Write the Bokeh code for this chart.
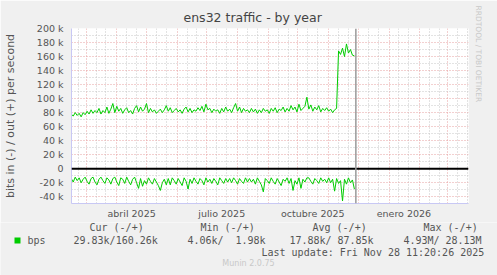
import pandas as pd
from bokeh.plotting import figure
from bokeh.layouts import column
from bokeh.models import Range1d, FixedTicker, Grid, Span, Title
from bokeh.core.properties import value
from bokeh.embed import file_html
from bokeh.resources import INLINE

# ---- data (values in kbit/s, one sample every 2 days) ----
dates = pd.date_range("2025-02-14", periods=144, freq="2D")
out_k = [78, 75, 80, 76, 79, 74, 80, 77, 82, 78,
         84, 79, 83, 80, 86, 78, 83, 80, 88, 79,
         85, 93, 80, 89, 82, 86, 79, 84, 87, 80,
         83, 78, 86, 90, 81, 88, 82, 85, 93, 80,
         86, 81, 84, 79, 82, 85, 80, 84, 90, 82,
         87, 80, 83, 86, 81, 84, 79, 85, 88, 81,
         86, 80, 84, 82, 87, 83, 89, 81, 92, 84,
         86, 80, 85, 82, 84, 79, 86, 81, 88, 82,
         85, 80, 87, 93, 82, 88, 80, 86, 82, 84,
         80, 86, 81, 85, 79, 84, 80, 86, 82, 84,
         79, 86, 82, 87, 80, 85, 83, 88, 81, 86,
         82, 90, 84, 88, 81, 92, 83, 86, 89, 102,
         85, 91, 82, 88, 84, 90, 81, 86, 83, 87,
         82, 85, 80, 84, 86, 168, 163, 172, 160, 178,
         165, 170, 162, 161]
in_k = [14, 19, 12, 17, 13, 20, 15, 12, 18, 22,
        14, 12, 19, 23, 15, 12, 17, 21, 13, 16,
        22, 14, 12, 19, 24, 13, 15, 21, 12, 18,
        23, 15, 12, 20, 28, 14, 25, 17, 22, 13,
        18, 22, 14, 19, 24, 31, 20, 15, 23, 14,
        23, 13, 17, 22, 14, 19, 24, 13, 18, 29,
        15, 21, 13, 18, 22, 14, 17, 23, 13, 19,
        15, 21, 14, 18, 23, 13, 17, 21, 14, 19,
        14, 20, 13, 17, 22, 14, 18, 21, 13, 19,
        14, 19, 15, 22, 13, 18, 23, 33, 14, 17,
        21, 13, 18, 22, 14, 19, 24, 15, 18, 13,
        21, 14, 31, 17, 22, 13, 28, 15, 19, 13,
        13, 18, 22, 14, 17, 21, 13, 18, 15, 20,
        13, 20, 15, 32, 14, 21, 17, 46, 15, 22,
        13, 20, 16, 29]

y_tick_values = [-40000, -20000, 0, 20000, 40000, 60000, 80000, 100000,
                 120000, 140000, 160000, 180000, 200000]
y_tick_labels = ["-40 k", "-20 k", "0", "20 k", "40 k", "60 k", "80 k", "100 k",
                 "120 k", "140 k", "160 k", "180 k", "200 k"]
x_label_dates = ["2025-04-16", "2025-07-16", "2025-10-16", "2026-01-16"]
x_label_texts = ["abril 2025", "julio 2025", "octubre 2025", "enero 2026"]

legend_name = "bps"
legend_headers = ["Cur (-/+)", "Min (-/+)", "Avg (-/+)", "Max (-/+)"]
legend_values = ["29.83k/160.26k", "4.06k/", "1.98k", "17.88k/", "87.85k", "4.93M/", "28.13M"]
last_update = "Last update: Fri Nov 28 11:20:26 2025"
now_time = "2025-11-28 11:20:26"

def ms(t):
    return pd.Timestamp(t).value / 1e6

out_vals = [v * 1000 for v in out_k]
in_vals = [-v * 1000 for v in in_k]

BG = "#F0F0F0"
TXT = "#555555"
GREEN = "#00CC00"
MAIN_H = 222

p = figure(width=497, height=MAIN_H, x_axis_type="datetime",
           output_backend="svg", toolbar_location=None,
           x_range=Range1d(ms("2025-02-14 06:00"), ms("2026-03-22 06:00")),
           y_range=Range1d(-49600, 200000),
           min_border_left=67, min_border_right=29,
           min_border_top=28, min_border_bottom=MAIN_H - 203)
p.background_fill_color = "white"
p.border_fill_color = BG
p.outline_line_color = None
p.xgrid.visible = False
p.ygrid.visible = False
p.frame_align = False

# title
p.title = Title(text="ens32 traffic - by year", align="left", offset=112,
                text_font="DejaVu Sans", text_font_size="12.5px",
                text_font_style="normal", text_color="#444444", standoff=8)
p.add_layout(Title(text="RRDTOOL / TOBI OETIKER", align="left", offset=-23,
                   vertical_align="top", standoff=6,
                   text_font="DejaVu Sans", text_font_size="7.5px",
                   text_font_style="normal", text_color="#C8C8C8"), "right")

# grids
month_starts = pd.date_range("2025-02-01", "2026-04-01", freq="MS")
x_major = [ms(d) for d in month_starts]
x_minor = []
for d in month_starts:
    x_minor.append(ms(d + pd.Timedelta(days=10)))
    x_minor.append(ms(d + pd.Timedelta(days=20)))
y_minor = [v + 10000 for v in y_tick_values] + [-50000]

MAJ = "#E6A0A0"
MIN = "#C6C6C6"
p.add_layout(Grid(dimension=0, ticker=FixedTicker(ticks=x_major, minor_ticks=x_minor),
                  grid_line_color=MAJ, grid_line_dash="1 2",
                  minor_grid_line_color=MIN, minor_grid_line_dash="1 2"))
p.add_layout(Grid(dimension=1, ticker=FixedTicker(ticks=y_tick_values, minor_ticks=y_minor),
                  grid_line_color=MAJ, grid_line_dash="1 2",
                  minor_grid_line_color=MIN, minor_grid_line_dash="1 2"))

# axes
xa = p.xaxis[0]
xa.ticker = FixedTicker(ticks=[ms(d) for d in x_label_dates])
xa.major_label_overrides = {ms(d): t for d, t in zip(x_label_dates, x_label_texts)}
ya = p.yaxis[0]
ya.ticker = FixedTicker(ticks=y_tick_values)
ya.major_label_overrides = {v: t for v, t in zip(y_tick_values, y_tick_labels)}
ya.axis_label = "bits in (-) / out (+) per second"
ya.axis_label_text_font = "DejaVu Sans"
ya.axis_label_text_font_size = "11px"
ya.axis_label_text_font_style = "normal"
ya.axis_label_text_color = TXT
ya.axis_label_standoff = 17
for ax in (xa, ya):
    ax.axis_line_color = "#C8C8F4"
    ax.major_tick_line_color = None
    ax.minor_tick_line_color = None
    ax.major_tick_out = 0
    ax.major_tick_in = 0
    ax.minor_tick_out = 0
    ax.minor_tick_in = 0
    ax.major_label_text_font = "DejaVu Sans"
    ax.major_label_text_font_size = "9.5px"
    ax.major_label_text_color = TXT
xa.major_label_standoff = 4
ya.major_label_standoff = 8

# zero line and "now" line
p.add_layout(Span(location=0, dimension="width", line_color="black", line_width=2))
p.add_layout(Span(location=ms(now_time), dimension="height", line_color="#9A9A9A", line_width=1.5))

# data
p.line(dates, out_vals, line_color=GREEN, line_width=1)
p.line(dates, in_vals, line_color=GREEN, line_width=1)

# ---- legend panel (second figure, coordinates = page pixels) ----
L = figure(width=497, height=275 - MAIN_H, output_backend="svg", toolbar_location=None,
           x_range=Range1d(0, 497), y_range=Range1d(275, MAIN_H),
           min_border=0, min_border_left=0, min_border_right=0,
           min_border_top=0, min_border_bottom=0)
L.axis.visible = False
L.grid.visible = False
L.outline_line_color = None
L.background_fill_color = BG
L.border_fill_color = BG
L.frame_align = False

mono = value("DejaVu Sans Mono")
L.text(x=[89, 200, 312, 423], y=[227] * 4, text=legend_headers,
       text_font=mono, text_font_size=value("10px"), text_color=TXT,
       text_baseline="middle", text_align="left")
L.text(x=[27, 73, 187, 235, 289, 337, 403, 445], y=[240] * 8,
       text=[legend_name] + legend_values,
       text_font=mono, text_font_size=value("10px"), text_color=TXT,
       text_baseline="middle", text_align="left")
L.text(x=[261], y=[252], text=[last_update],
       text_font=mono, text_font_size=value("10px"), text_color=TXT,
       text_baseline="middle", text_align="left")
L.text(x=[248], y=[263], text=["Munin 2.0.75"],
       text_font=value("DejaVu Sans"), text_font_size=value("8px"), text_color="#C8C8C8",
       text_baseline="middle", text_align="center")
L.scatter(x=[17], y=[240], marker="square", size=6, fill_color=GREEN, line_color=None)

layout = column(p, L, spacing=0)
open("out.html", "w").write(file_html(layout, INLINE))
